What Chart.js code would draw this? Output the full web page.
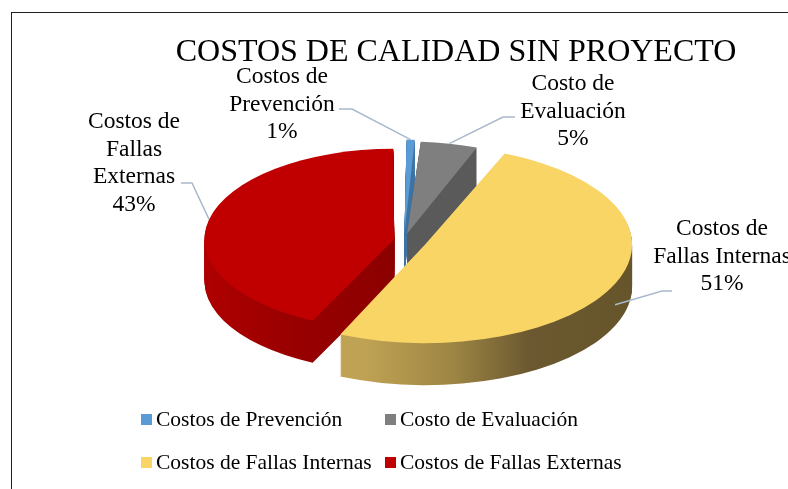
<!DOCTYPE html>
<html>
<head>
<meta charset="utf-8">
<script src="https://cdn.jsdelivr.net/npm/chart.js@4"></script>
<style>
  body { margin: 0; background: #fff; overflow: hidden; width: 788px; height: 489px; position: relative; }
  #caja { position: absolute; left: 0; top: 0; width: 900px; height: 489px; }
  #marco { position: absolute; left: 11px; top: 12px; width: 900px; height: 600px;
           border-left: 1.5px solid #1e1e1e; border-top: 1.5px solid #1e1e1e; pointer-events: none; }
  #leyenda { position: absolute; left: 141px; top: 398px; display: grid;
             grid-template-columns: 244px 244px; grid-auto-rows: 43px;
             font: 21.5px "Liberation Serif", serif; color: #000; }
  #leyenda div { display: flex; align-items: center; white-space: nowrap; }
  #leyenda span { display: inline-block; width: 11px; height: 11px; margin-right: 4px; }
</style>
</head>
<body>
<div id="caja"><canvas id="grafico"></canvas></div>
<div id="marco"></div>
<div id="leyenda"></div>
<script>
// Datos del gráfico
const categorias = ['Costos de Prevención', 'Costo de Evaluación', 'Costos de Fallas Internas', 'Costos de Fallas Externas'];
const porcentajes = [1, 5, 51, 43];
const lineasRotulo = [['Costos de', 'Prevención'], ['Costo de', 'Evaluación'], ['Costos de', 'Fallas Internas'], ['Costos de', 'Fallas', 'Externas']];
const colores = ['#5b9bd5', '#7f7f7f', '#f9d566', '#c00000'];

// Aspecto del pastel 3D
const GROSOR = 42;        // alto del canto en px
const APLANADO = 0.4765;  // relación alto/ancho de la elipse
const DESPLAZAR_X = -52;  // el área del pastel no está centrada bajo el título
const SEPARACION = [56, 56, 92, 40];  // offset de Chart.js por porción (se aplica /4)

// Rótulos: x centro, y de la primera línea base, y el trazo guía (extremo y codo)
const rotulos = [
  { x: 282, y: 83, guia: [339, 109], codo: [352, 109] },
  { x: 573, y: 90, guia: [515, 117], codo: [503, 117] },
  { x: 722, y: 235, guia: [672, 291], codo: [662, 291] },
  { x: 134, y: 128, guia: [181, 183], codo: [192, 183] }
];

function degradado(ctx, paradas) {
  const x0 = paradas[0][0], x1 = paradas[paradas.length - 1][0];
  const g = ctx.createLinearGradient(x0, 0, x1, 0);
  paradas.forEach(p => g.addColorStop((p[0] - x0) / (x1 - x0), p[1]));
  return g;
}

const pastel3D = {
  id: 'pastel3D',
  afterLayout(chart) {
    chart.chartArea.left += DESPLAZAR_X;
    chart.chartArea.right += DESPLAZAR_X;
  },
  beforeDatasetsDraw(chart) {
    const ctx = chart.ctx;
    const arcos = chart.getDatasetMeta(0).data;
    const cx = arcos[0].x, cy = arcos[0].y, r = arcos[0].outerRadius;
    const lados = [
      '#3f74a6',
      '#5a5a5a',
      degradado(ctx, [[cx - 60, '#bfa253'], [cx + 30, '#9c8443'], [cx + 105, '#6b5830'], [cx + r + 45, '#655429']]),
      degradado(ctx, [[cx - r - 20, '#b20000'], [cx - 100, '#980000'], [cx, '#8c0000']])
    ];
    const capa = (dy, relleno) => {
      ctx.save();
      ctx.translate(cx, cy + dy);
      ctx.scale(1, APLANADO);
      ctx.translate(-cx, -cy);
      arcos.forEach((arco, i) => {
        const copia = Object.create(arco);
        copia.options = Object.assign({}, arco.options, { backgroundColor: relleno[i], borderWidth: 0 });
        copia.draw(ctx);
      });
      ctx.restore();
    };
    for (let d = GROSOR; d > 0; d--) capa(d, lados);
    capa(0, colores);
    return false;
  },
  afterDraw(chart) {
    const ctx = chart.ctx;
    const arcos = chart.getDatasetMeta(0).data;
    const total = porcentajes.reduce((a, b) => a + b, 0);
    ctx.save();
    ctx.strokeStyle = '#a9b9cc';
    ctx.lineWidth = 1.5;
    arcos.forEach((arco, i) => {
      const medio = (arco.startAngle + arco.endAngle) / 2;
      const fix = 1 - Math.sin(Math.min(Math.PI, arco.circumference));
      const dist = arco.outerRadius + (arco.options.offset / 4) * (1 + fix);
      const px = arco.x + Math.cos(medio) * dist;
      let py = arco.y + Math.sin(medio) * dist * APLANADO;
      if (Math.sin(medio) > 0.2) py += GROSOR / 2;
      const rt = rotulos[i];
      ctx.beginPath();
      ctx.moveTo(rt.guia[0], rt.guia[1]);
      ctx.lineTo(rt.codo[0], rt.codo[1]);
      ctx.lineTo(px, py);
      ctx.stroke();
    });
    ctx.fillStyle = '#000';
    ctx.font = '23.5px "Liberation Serif"';
    ctx.textAlign = 'center';
    ctx.textBaseline = 'alphabetic';
    rotulos.forEach((rt, i) => {
      const lineas = lineasRotulo[i].concat(Math.round(porcentajes[i] / total * 100) + '%');
      lineas.forEach((t, j) => ctx.fillText(t, rt.x, rt.y + j * 27.5));
    });
    ctx.restore();
  }
};

const grafico = new Chart(document.getElementById('grafico'), {
  type: 'pie',
  data: {
    labels: categorias,
    datasets: [{
      data: porcentajes,
      backgroundColor: colores,
      borderWidth: 0,
      offset: SEPARACION,
      radius: 184
    }]
  },
  options: {
    responsive: true,
    maintainAspectRatio: false,
    animation: false,
    layout: { padding: { left: 12, right: 0, top: 0, bottom: 90 } },
    plugins: {
      title: {
        display: true,
        text: 'COSTOS DE CALIDAD SIN PROYECTO',
        color: '#000',
        font: { family: 'Liberation Serif', size: 32, weight: 'normal' },
        padding: { top: 33, bottom: 10 }
      },
      legend: { display: false },
      tooltip: { enabled: false }
    }
  },
  plugins: [pastel3D]
});

// Leyenda en dos columnas
const leyenda = document.getElementById('leyenda');
Chart.overrides.pie.plugins.legend.labels.generateLabels(grafico).forEach(it => {
  const d = document.createElement('div');
  d.innerHTML = '<span style="background:' + it.fillStyle + '"></span>' + it.text;
  leyenda.appendChild(d);
});
</script>
</body>
</html>
